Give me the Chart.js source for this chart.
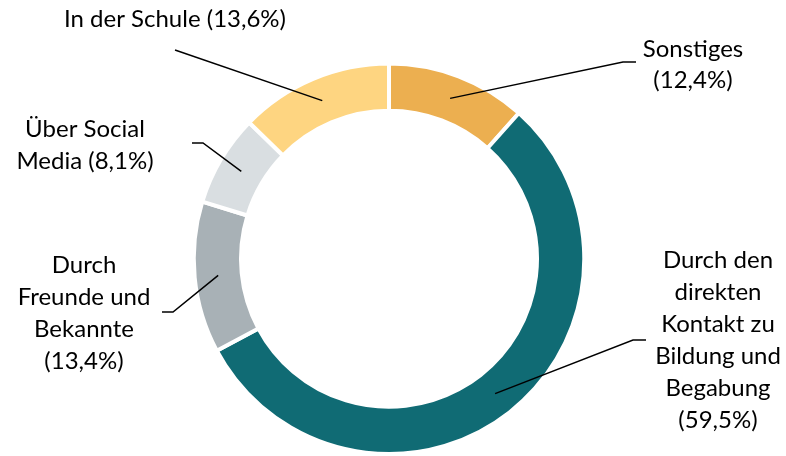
<!DOCTYPE html>
<html><head><meta charset="utf-8">
<script src="https://cdn.jsdelivr.net/npm/chart.js@4"></script>
<style>html,body{margin:0;padding:0;background:#fff}</style>
</head><body>
<canvas id="c" width="786" height="456"></canvas>
<script>
const categories = ['Sonstiges', 'Durch den direkten Kontakt zu Bildung und Begabung', 'Durch Freunde und Bekannte', 'Über Social Media', 'In der Schule'];
const values = [12.4, 59.5, 13.4, 8.1, 13.6];
const labelLines = [
  ['Sonstiges', '(12,4%)'],
  ['Durch den', 'direkten', 'Kontakt zu', 'Bildung und', 'Begabung', '(59,5%)'],
  ['Durch', 'Freunde und', 'Bekannte', '(13,4%)'],
  ['Über Social', 'Media (8,1%)'],
  ['In der Schule (13,6%)']
];
const colors = ['#ECAF50', '#106B74', '#A8B1B6', '#D9DEE1', '#FED581'];

// label layout: text centre x, first baseline, line height, leader-line points after the anchor
const labelLayout = [
  {cx: 693, y0: 57, lh: 31, pts: [[623, 62], [636, 62]]},
  {cx: 718, y0: 268, lh: 32, pts: [[633, 340], [646, 340]]},
  {cx: 84, y0: 273, lh: 32, pts: [[173, 312], [162, 312]]},
  {cx: 85, y0: 137, lh: 32, pts: [[203, 143], [192, 143]]},
  {cx: 175, y0: 27, lh: 32, pts: [[175, 50]]}
];

const labelPlugin = {
  id: 'labels',
  afterDraw(chart) {
    const ctx = chart.ctx;
    const meta = chart.getDatasetMeta(0);
    ctx.save();
    meta.data.forEach((arc, i) => {
      const p = arc.tooltipPosition();
      const L = labelLayout[i];
      ctx.beginPath();
      ctx.moveTo(p.x, p.y);
      L.pts.forEach(q => ctx.lineTo(q[0], q[1]));
      ctx.strokeStyle = '#000';
      ctx.lineWidth = 1.5;
      ctx.stroke();
      ctx.fillStyle = '#000';
      ctx.font = '24px Lato';
      ctx.textAlign = 'center';
      ctx.textBaseline = 'alphabetic';
      labelLines[i].forEach((t, k) => ctx.fillText(t, L.cx, L.y0 + k * L.lh));
    });
    ctx.restore();
  }
};

new Chart(document.getElementById('c'), {
  type: 'doughnut',
  data: {
    labels: categories,
    datasets: [{
      data: values,
      backgroundColor: colors,
      borderColor: '#ffffff',
      borderWidth: 4
    }]
  },
  options: {
    responsive: false,
    animation: false,
    cutout: '75.8%',
    layout: {padding: {top: 61.5, right: 8, left: 0, bottom: -2.5}},
    plugins: {legend: {display: false}, tooltip: {enabled: false}}
  },
  plugins: [labelPlugin]
});
</script>
</body></html>
